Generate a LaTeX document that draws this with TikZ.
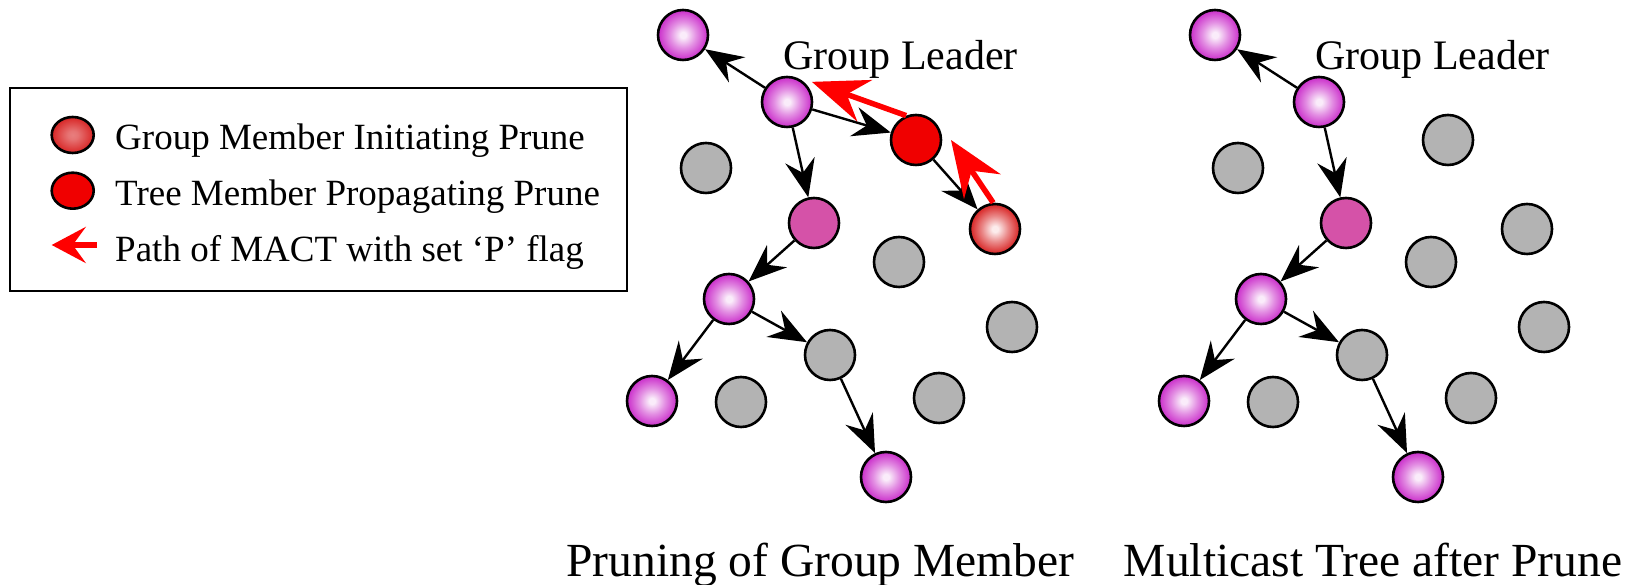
\documentclass[tikz,border=0pt]{standalone}
\usepackage{fontspec}
\setmainfont{Liberation Serif}
\usetikzlibrary{arrows.meta,shapes.geometric}
\definecolor{ballmag}{RGB}{198,28,198}
\definecolor{ballpink}{RGB}{250,236,250}
\definecolor{ballred}{RGB}{212,16,16}
\definecolor{ballrose}{RGB}{252,236,236}
\definecolor{relaymag}{RGB}{213,82,168}
\definecolor{propred}{RGB}{240,0,0}
\definecolor{idlegray}{RGB}{179,179,179}
\definecolor{flagred}{RGB}{255,0,0}
\pgfdeclareradialshading{magball}{\pgfpoint{0bp}{0bp}}{color(0bp)=(ballpink);
  color(3bp)=(ballpink); color(13bp)=(ballmag!45!ballpink); color(27bp)=(ballmag); color(50bp)=(ballmag)}
\pgfdeclareradialshading{redball}{\pgfpoint{0bp}{0bp}}{color(0bp)=(ballrose);
  color(3bp)=(ballrose); color(13bp)=(ballred!45!ballrose); color(27bp)=(ballred); color(50bp)=(ballred)}
\pgfdeclareradialshading{keyball}{\pgfpoint{0bp}{0bp}}{color(0bp)=(ballred!50!ballrose);
  color(6bp)=(ballred!55!ballrose); color(30bp)=(ballred); color(50bp)=(ballred)}

\begin{document}
\begin{tikzpicture}[x=1pt,y=1pt,
    station/.style={circle,draw,line width=2.6pt,minimum size=50pt,inner sep=0pt},
    member/.style={station,shading=magball},
    relay/.style={station,fill=relaymag},
    idle/.style={station,fill=idlegray},
    propag/.style={station,fill=propred},
    initiator/.style={station,shading=redball},
    keydot/.style={ellipse,draw,line width=2.6pt,minimum width=42pt,minimum height=36pt,inner sep=0pt},
    link/.style={->,line width=2.4pt},
    pruneflag/.style={flagred,line width=5.5pt,-{Stealth[length=56pt,width=44pt,inset=19pt]}},
    keytext/.style={anchor=base west,font=\fontsize{37pt}{44pt}\selectfont},
    lead/.style={anchor=base,font=\fontsize{42pt}{50pt}\selectfont},
    caption/.style={anchor=base,font=\fontsize{47.5pt}{56pt}\selectfont},
    >={Stealth[length=38pt,width=30pt,inset=13pt]}]
  \useasboundingbox (0,0) rectangle (1629,585);

  \draw[line width=2pt](10.4,294) rectangle (626.5,496.7);
  \node[keydot,shading=keyball] (k1) at (72.7,450) {};
  \node[keydot,fill=propred] (k2) at (72.7,394.3) {};
  \coordinate (k3a) at (96.7,340);
  \coordinate (k3b) at (51.7,340);
  \draw[pruneflag,-{Stealth[length=34pt,width=36pt,inset=13pt]}](k3a)--(k3b);
  \node[keytext] at (111.7,435) {Group Member Initiating Prune};
  \node[keytext] at (111.7,379) {Tree Member Propagating Prune};
  \node[keytext] at (111.7,323) {Path of MACT with set `P' flag};

  \foreach \pre/\dx/\pstyle/\istyle in {L/0/propag/initiator,R/532/idle/idle}{
    \begin{scope}[xshift=\dx pt,name prefix=\pre-]
      \node[lead] (gl) at (900.5,515) {Group Leader};
      \node[member] (mA) at (683,550) {};
      \node[member] (ldr) at (787,483) {};
      \node[\pstyle] (pr) at (916,445) {};
      \node[\istyle] (ini) at (995,356) {};
      \node[idle] (gA) at (706,417) {};
      \node[relay] (rel) at (814,362) {};
      \node[idle] (gB) at (899,323) {};
      \node[member] (mB) at (729,286) {};
      \node[idle] (gC) at (830,230) {};
      \node[member] (mC) at (652,184) {};
      \node[idle] (gD) at (741,183) {};
      \node[member] (mD) at (886,108) {};
      \node[idle] (gE) at (939,187) {};
      \node[idle] (gF) at (1012,258) {};
      \draw[link](ldr)--(mA);
      \draw[link](ldr)--(rel);
      \draw[link](rel)--(mB);
      \draw[link](mB)--(mC);
      \draw[link](mB)--(gC);
      \draw[link](gC)--(mD);
    \end{scope}
  }
  \draw[link](L-ldr)--(L-pr);
  \draw[link](L-pr)--(L-ini);
  \draw[pruneflag](L-ini.94)--([shift={(0:35)}]L-pr.center);
  \draw[pruneflag](L-pr.112)--([shift={(39:32)}]L-ldr.center);

  \node[caption] (capL) at (820.5,8) {Pruning of Group Member};
  \node[caption] (capR) at (1373,8) {Multicast Tree after Prune};
\end{tikzpicture}
\end{document}
